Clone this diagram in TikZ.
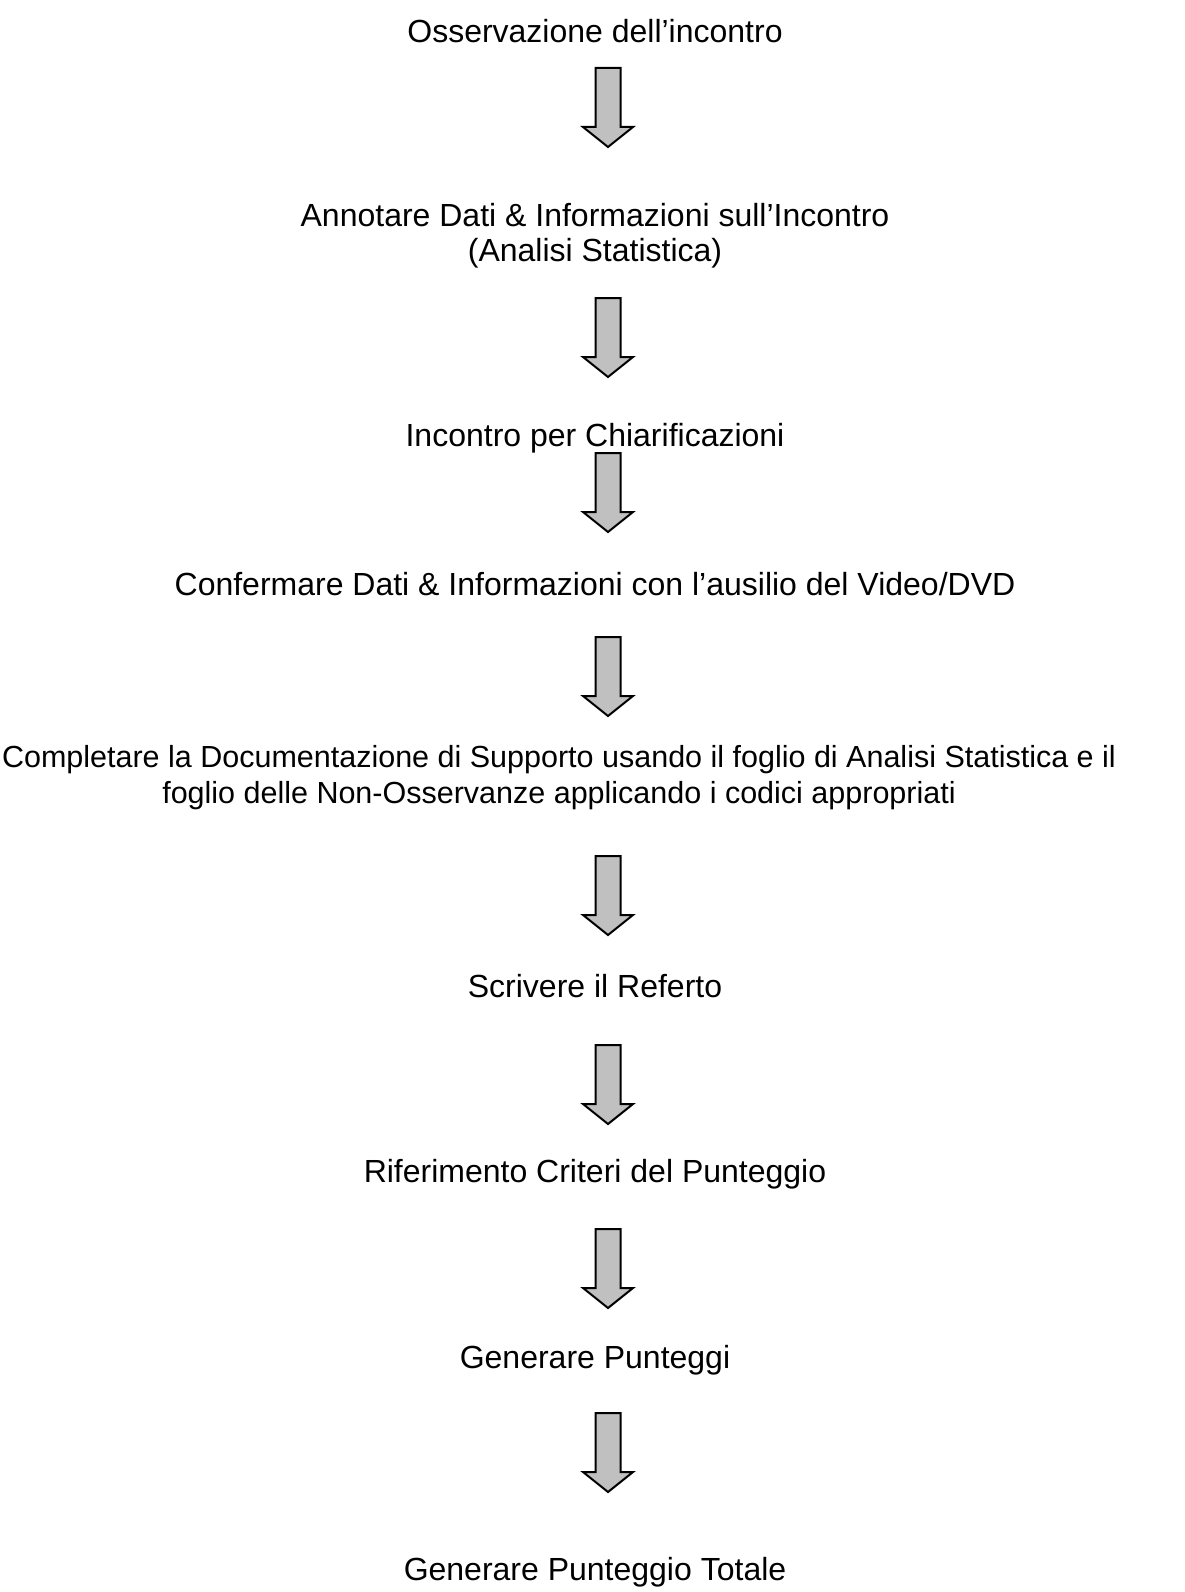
\documentclass[tikz,border=0pt]{standalone}
\usepackage{fontspec}
\setmainfont{Liberation Sans}
\definecolor{arrowfill}{HTML}{C0C0C0}
\begin{document}
\begin{tikzpicture}[x=1pt,y=-1pt,
  lbl/.style={anchor=base, font=\fontsize{32}{35.5}\selectfont, align=center, inner sep=0pt},
  lblsmall/.style={lbl, font=\fontsize{30.5}{35.5}\selectfont},
  blockarrow/.pic={
    \draw[line width=2pt, line join=miter, fill=arrowfill]
      (-12.5,0) -- (12.5,0) -- (12.5,59) -- (25,59) -- (0,79) -- (-25,59) -- (-12.5,59) -- cycle;
  }]
\useasboundingbox[fill=white] (0,0) rectangle (1184,1592);

% multi-line nodes: anchor=base is the baseline of the last line
\node[lbl] (t1) at (595,43) {Osservazione dell’incontro};
\node[lbl] (t2) at (595,261.5) {Annotare Dati \& Informazioni sull’Incontro\\(Analisi Statistica)};
\node[lbl] (t3) at (595,446) {Incontro per Chiarificazioni};
\node[lbl] (t4) at (595,595) {Confermare Dati \& Informazioni con l’ausilio del Video/DVD};
\node[lblsmall] (t5) at (559,803) {Completare la Documentazione di Supporto usando il foglio di Analisi Statistica e il\\foglio delle Non-Osservanze applicando i codici appropriati};
\node[lbl] (t6) at (595,997) {Scrivere il Referto};
\node[lbl] (t7) at (595,1182) {Riferimento Criteri del Punteggio};
\node[lbl] (t8) at (595,1368) {Generare Punteggi};
\node[lbl] (t9) at (595,1580) {Generare Punteggio Totale};

\coordinate (a1) at (608,68);
\coordinate (a2) at (608,298);
\coordinate (a3) at (608,453);
\coordinate (a4) at (608,637);
\coordinate (a5) at (608,856);
\coordinate (a6) at (608,1045);
\coordinate (a7) at (608,1229);
\coordinate (a8) at (608,1413);
\foreach \a in {a1,a2,a3,a4,a5,a6,a7,a8} {
  \pic at (\a) {blockarrow};
}
\end{tikzpicture}
\end{document}
